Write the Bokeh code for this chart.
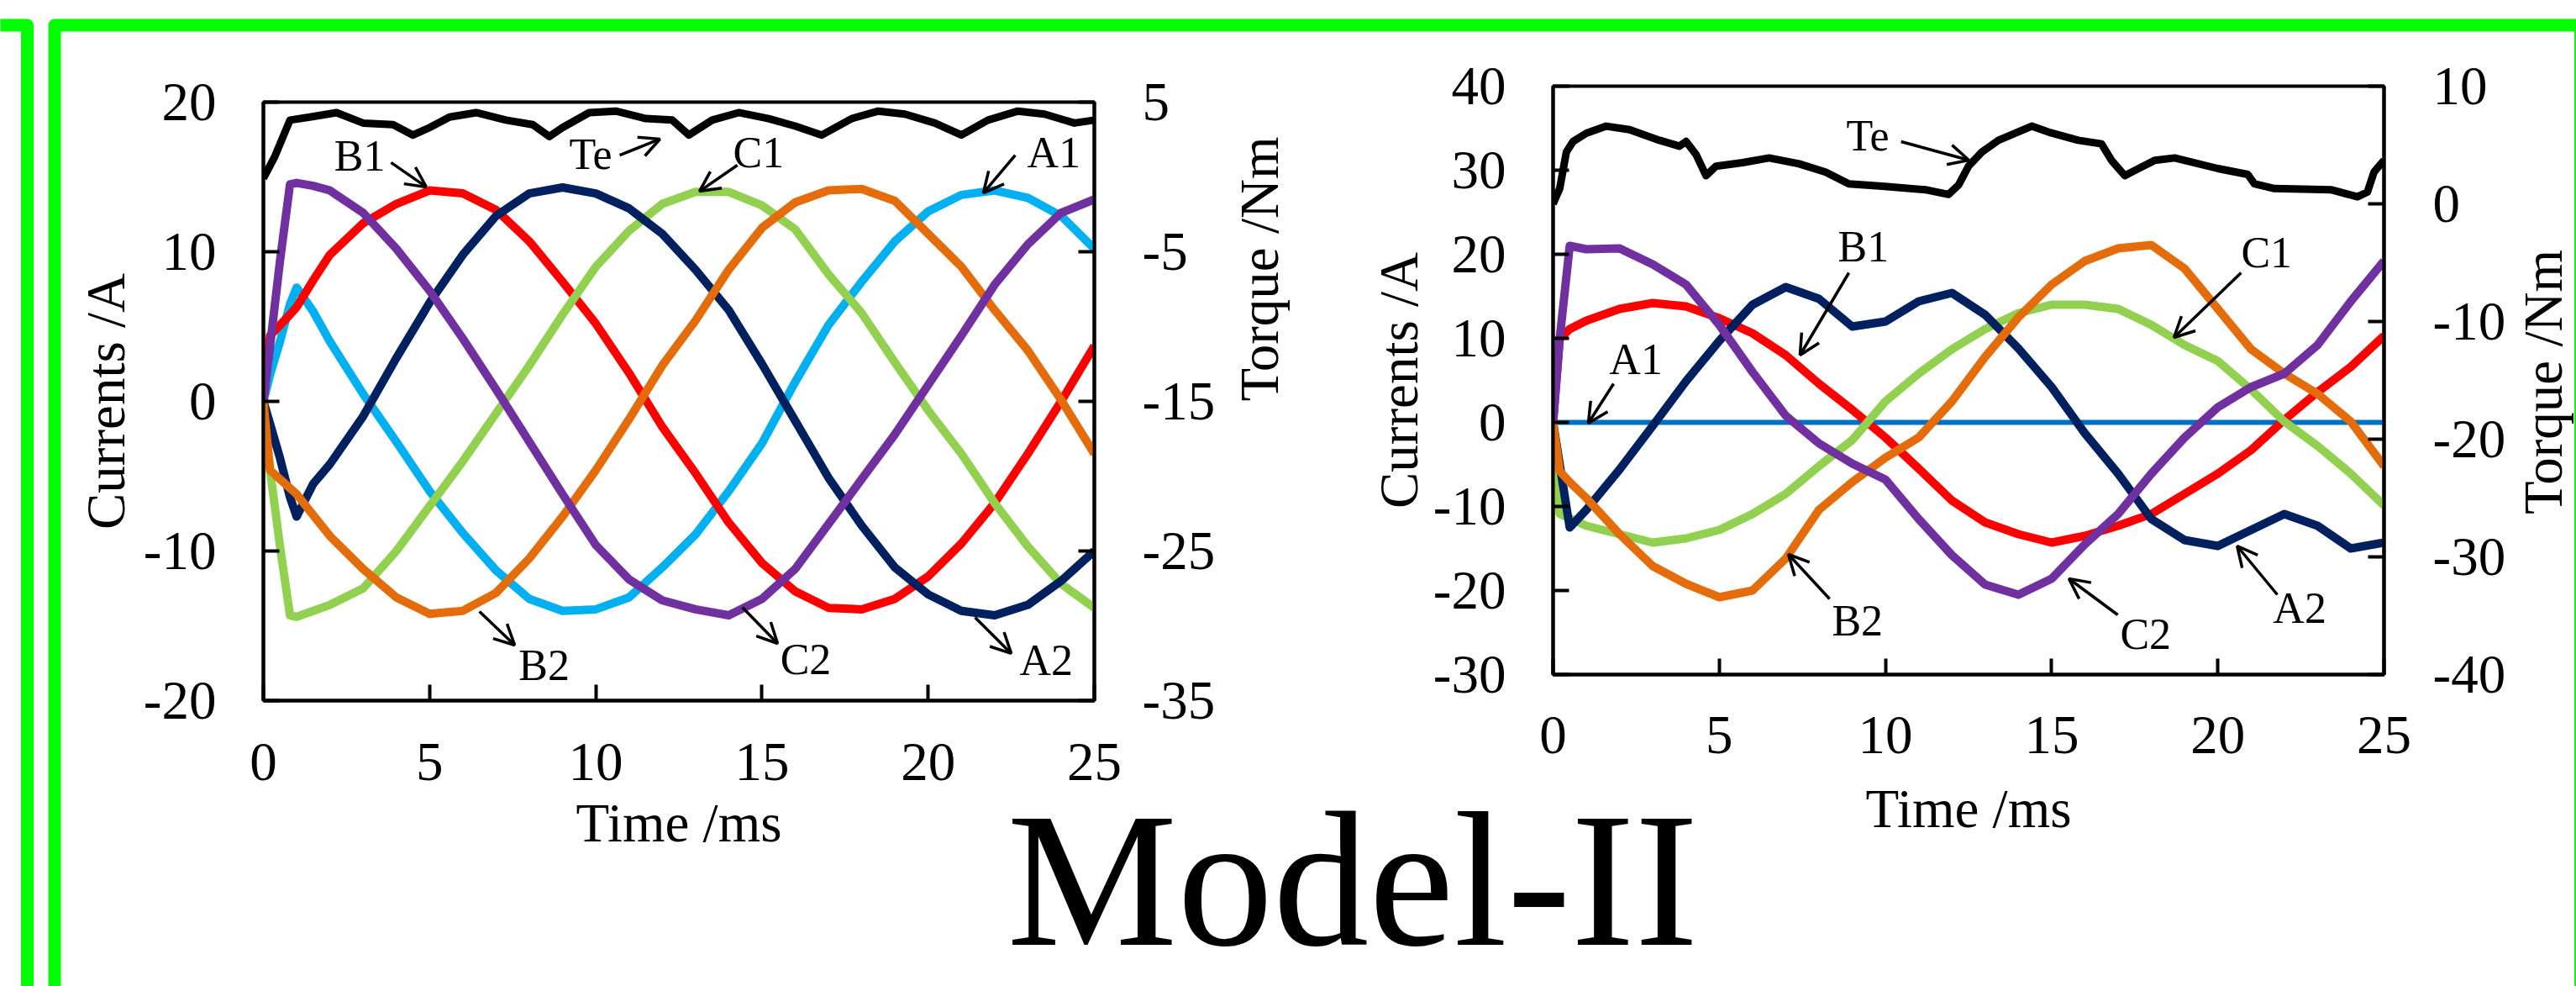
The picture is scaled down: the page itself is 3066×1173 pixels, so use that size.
import math
from bokeh.plotting import figure
from bokeh.models import Range1d, LinearAxis, FixedTicker, Arrow, OpenHead, Label, ColumnDataSource
from bokeh.layouts import column, row
from bokeh.core.properties import value
from bokeh.embed import file_html
from bokeh.resources import INLINE

FONT = "Liberation Serif"

# ---------------- data: left chart (healthy) ----------------
TIME_L = [0, 0.2, 0.5, 0.8, 1.0, 1.5, 2, 3, 4, 5, 6, 7, 8, 9, 10, 11, 12, 13,
          14, 15, 16, 17, 18, 19, 20, 21, 22, 23, 24, 25]
A1_L = [0, 1.8, 4.0, 6.5, 7.6, 6.0, 4.0, 0.5, -2.7, -6.0, -8.8, -11.3, -13.2, -14.0, -13.9,
        -13.1, -11.1, -8.9, -6.0, -2.8, 1.3, 5.1, 8.0, 10.7, 12.7, 13.8, 14.1, 13.6, 12.4, 10.2]
B1_L = [0, 4.4, 5.1, 5.8, 6.3, 8.1, 9.8, 11.9, 13.2, 14.1, 13.9, 12.8, 10.7, 8.0, 5.2,
        1.9, -1.7, -4.8, -8.1, -10.8, -12.7, -13.8, -13.9, -13.2, -11.7, -9.5, -6.8, -3.5, 0.0, 3.7]
C1_L = [0, -4.6, -9.7, -14.3, -14.4, -14.0, -13.6, -12.5, -10.0, -7.0, -4.0, -0.8, 2.4, 5.8, 9.0,
        11.4, 13.2, 14.0, 14.0, 13.1, 11.5, 8.5, 5.9, 2.6, -0.6, -3.5, -6.8, -9.7, -12.2, -13.8]
A2_L = [0, -1.5, -3.8, -6.4, -7.7, -5.5, -4.2, -1.0, 2.9, 6.6, 9.8, 12.4, 13.9, 14.3, 13.9,
        12.9, 11.2, 8.8, 6.1, 2.5, -1.3, -5.1, -8.3, -11.1, -12.9, -14.0, -14.3, -13.6, -12.0, -10.0]
B2_L = [0, -4.6, -5.2, -5.8, -6.2, -7.6, -9.0, -11.2, -13.1, -14.2, -14.0, -12.8, -10.5, -7.7, -4.6,
        -1.2, 2.4, 5.4, 8.8, 11.6, 13.3, 14.1, 14.2, 13.4, 11.2, 9.0, 6.1, 3.4, 0.1, -3.5]
C2_L = [0, 3.7, 9.4, 14.5, 14.6, 14.4, 14.1, 12.6, 10.2, 7.4, 4.2, 0.8, -2.7, -6.2, -9.6,
        -11.9, -13.3, -13.9, -14.3, -13.2, -11.2, -8.2, -5.2, -2.2, 1.1, 4.4, 7.8, 10.5, 12.6, 13.5]
TE_TIME_L = [0, 0.35, 0.8, 1.4, 2.2, 3.0, 3.9, 4.5, 5.0, 5.6, 6.4, 7.3, 8.1, 8.6, 9.0, 9.8, 10.6,
             11.5, 12.3, 12.8, 13.5, 14.3, 15.2, 16.0, 16.8, 17.7, 18.5, 19.3, 20.2, 21.0, 21.8,
             22.7, 23.5, 24.4, 25.0]
TE_L = [-0.1, 1.4, 3.8, 4.0, 4.3, 3.6, 3.5, 2.8, 3.3, 4.0, 4.3, 3.8, 3.5, 2.7, 3.3, 4.3, 4.4,
        3.9, 3.8, 2.8, 3.8, 4.3, 3.9, 3.4, 2.8, 3.9, 4.4, 4.2, 3.6, 2.8, 3.8, 4.4, 4.2, 3.6, 3.8]

# ---------------- data: right chart (A1 open) ----------------
TIME_R = [0, 0.2, 0.5, 1, 2, 3, 4, 5, 6, 7, 8, 9, 10, 11, 12, 13, 14, 15, 16, 17, 18,
          19, 20, 21, 22, 23, 24, 25]
A1_R = [0, 0, 0, 0, 0, 0, 0, 0, 0, 0, 0, 0, 0, 0, 0, 0, 0, 0, 0, 0, 0, 0, 0, 0, 0, 0, 0, 0]
B1_R = [0, 10.0, 11.1, 12.1, 13.5, 14.2, 13.8, 12.4, 10.6, 8.0, 4.6, 1.5, -1.8, -5.5, -9.3,
        -11.9, -13.3, -14.3, -13.5, -12.3, -10.9, -8.5, -6.1, -3.3, 0.3, 3.6, 6.6, 10.3]
C1_R = [0, -10.9, -11.4, -12.3, -13.3, -14.3, -13.8, -12.8, -10.9, -8.5, -5.2, -2.1, 2.5, 5.8, 8.7,
        11.1, 13.0, 14.0, 14.0, 13.5, 11.6, 9.2, 7.3, 3.9, 0.1, -2.8, -6.1, -9.9]
A2_R = [0, -5.0, -12.5, -10.4, -5.6, -0.4, 4.9, 9.7, 14.0, 16.1, 14.7, 11.4, 12.0, 14.4, 15.4,
        12.8, 8.8, 4.2, -1.3, -6.1, -11.5, -14.0, -14.7, -12.8, -10.9, -12.3, -15.0, -14.3]
B2_R = [0, -5.8, -7.1, -9.0, -13.3, -17.1, -19.2, -20.8, -20.0, -16.2, -10.4, -7.1, -4.2, -1.8, 2.5,
        7.8, 12.5, 16.4, 19.2, 20.7, 21.1, 18.3, 13.5, 8.7, 5.8, 3.4, 0.1, -5.2]
C2_R = [0, 10.0, 21.0, 20.6, 20.7, 18.8, 16.4, 11.6, 6.0, 0.8, -2.5, -4.9, -6.8, -11.5, -15.8,
        -19.3, -20.5, -18.6, -14.5, -10.9, -6.1, -1.8, 1.8, 4.2, 5.8, 9.2, 14.4, 19.2]
TE_TIME_R = [0, 0.2, 0.4, 0.6, 1.0, 1.6, 2.3, 3.2, 3.8, 4.0, 4.3, 4.6, 4.9, 5.7, 6.5, 7.4, 8.2,
             8.9, 9.9, 11.2, 11.9, 12.2, 12.5, 12.9, 13.4, 14.4, 14.9, 15.8, 16.5, 16.8, 17.2,
             18.1, 18.7, 20.0, 20.9, 21.1, 21.7, 23.4, 24.2, 24.5, 24.7, 25.0]
TE_R = [0.0, 1.3, 4.4, 5.3, 6.0, 6.6, 6.3, 5.4, 4.9, 5.3, 4.2, 2.4, 3.2, 3.5, 3.9, 3.4, 2.7,
        1.7, 1.5, 1.2, 0.8, 1.6, 3.2, 4.4, 5.4, 6.6, 6.1, 5.4, 5.1, 3.7, 2.4, 3.7, 3.9, 3.0,
        2.5, 1.7, 1.3, 1.2, 0.6, 1.0, 2.7, 3.7]

TIME_TICKS = [0, 5, 10, 15, 20, 25]
CUR_TICKS_L = [-20, -10, 0, 10, 20]
TQ_TICKS_L = [-35, -25, -15, -5, 5]
CUR_TICKS_R = [-30, -20, -10, 0, 10, 20, 30, 40]
TQ_TICKS_R = [-40, -30, -20, -10, 0, 10]

# annotations: label, text x / middle-line y, arrow start, arrow end
LBL_L = ["B1", "Te", "C1", "A1", "B2", "C2", "A2"]
LBL_L_X = [2.13, 9.20, 14.13, 22.98, 7.68, 15.55, 22.75]
LBL_L_Y = [16.43, 16.54, 16.65, 16.65, -17.62, -17.22, -17.32]
ARR_L_X0 = [3.84, 10.72, 14.26, 22.62, 6.50, 14.41, 21.41]
ARR_L_Y0 = [15.96, 16.46, 15.79, 16.46, -14.04, -13.76, -14.44]
ARR_L_X1 = [4.90, 11.93, 13.12, 21.66, 7.56, 15.47, 22.50]
ARR_L_Y1 = [14.33, 17.53, 14.04, 13.93, -16.29, -16.18, -16.85]

LBL_R = ["Te", "B1", "A1", "B2", "C1", "C2", "A2"]
LBL_R_X = [8.82, 8.57, 1.69, 8.39, 20.70, 17.06, 21.66]
LBL_R_Y = [34.15, 20.95, 7.55, -23.55, 20.25, -25.15, -22.05]
ARR_R_X0 = [10.47, 8.90, 1.82, 8.32, 20.70, 16.99, 21.79]
ARR_R_Y0 = [33.4, 17.8, 4.6, -21.0, 17.8, -22.9, -20.5]
ARR_R_X1 = [12.51, 7.43, 1.06, 7.08, 18.68, 15.52, 20.58]
ARR_R_Y1 = [31.2, 8.0, -0.1, -15.7, 10.1, -18.6, -14.7]

COLORS = {"A1": "#00B0F0", "B1": "#FF0000", "C1": "#92D050",
          "A2": "#002060", "B2": "#E46C0A", "C2": "#7030A0"}


def style_axis(ax, ticks, standoff, label_standoff):
    ax.ticker = FixedTicker(ticks=ticks)
    ax.major_label_overrides = {t: str(t) for t in ticks}
    ax.major_tick_in = 19
    ax.major_tick_out = 0
    ax.major_tick_line_width = 4
    ax.minor_tick_line_color = None
    ax.axis_line_width = 4
    ax.axis_line_color = "black"
    ax.major_label_text_font = FONT
    ax.major_label_text_font_size = "65px"
    ax.major_label_text_color = "black"
    ax.major_label_standoff = standoff
    ax.axis_label_text_font = FONT
    ax.axis_label_text_font_size = "65px"
    ax.axis_label_text_font_style = "normal"
    ax.axis_label_text_color = "black"
    ax.axis_label_standoff = label_standoff


def make_chart(width, height, borders, cur_rng, tq_rng, cur_ticks, tq_ticks,
               time, series, te_time, te, lbl, lx, ly, ax0, ay0, ax1, ay1,
               std, right_label, zero_line=None):
    p = figure(width=width, height=height, x_range=Range1d(0, 25),
               y_range=Range1d(*cur_rng), output_backend="svg", toolbar_location=None,
               min_border_left=borders[0], min_border_right=borders[1],
               min_border_top=borders[2], min_border_bottom=borders[3],
               background_fill_color=None, border_fill_color=None,
               outline_line_color="black", outline_line_width=4)
    p.xgrid.visible = False
    p.ygrid.visible = False
    p.extra_y_ranges = {"torque": Range1d(*tq_rng)}
    right = LinearAxis(y_range_name="torque", axis_label=right_label)
    p.add_layout(right, "right")
    p.xaxis.axis_label = "Time /ms"
    p.yaxis[0].axis_label = "Currents /A"
    style_axis(p.xaxis[0], TIME_TICKS, std["x"], std["xl"])
    style_axis(p.yaxis[0], cur_ticks, std["y"], std["yl"])
    style_axis(right, tq_ticks, std["r"], std["rl"])
    right.axis_label_orientation = math.pi / 2

    for name, vals in series:
        if name == "A1" and zero_line:
            p.line(time, vals, line_color=zero_line, line_width=6)
        else:
            p.line(time, vals, line_color=COLORS[name], line_width=10, line_join="round")
    p.line(te_time, te, line_color="black", line_width=9, line_join="round",
           y_range_name="torque")

    src = ColumnDataSource(dict(x=lx, y=ly, text=lbl))
    p.text(x="x", y="y", text="text", source=src, text_font=value(FONT),
           text_font_size=value("52px"), text_color="black",
           text_align="left", text_baseline="middle")
    for x0, y0, x1, y1 in zip(ax0, ay0, ax1, ay1):
        p.add_layout(Arrow(end=OpenHead(size=24, line_width=3.5, line_color="black"),
                           x_start=x0, y_start=y0, x_end=x1, y_end=y1,
                           line_width=3.5, line_color="black"))
    return p


TOP = 121      # shared top border (row aligns frames)
BOTTOM = 300   # shared bottom border
p1 = make_chart(1580, TOP + 712 + BOTTOM, (313, 278, TOP, BOTTOM), (-20, 20), (-35, 5),
                CUR_TICKS_L, TQ_TICKS_L, TIME_L,
                [("A1", A1_L), ("B1", B1_L), ("C1", C1_L), ("A2", A2_L), ("B2", B2_L), ("C2", C2_L)],
                TE_TIME_L, TE_L, LBL_L, LBL_L_X, LBL_L_Y, ARR_L_X0, ARR_L_Y0, ARR_L_X1, ARR_L_Y1,
                {"x": 51, "xl": 12, "y": 56, "yl": 6, "r": 57, "rl": 50}, "Torque /Nm")
p2 = make_chart(1486, TOP + 700 + BOTTOM, (268, 229, TOP, BOTTOM), (-30, 40), (-40, 10),
                CUR_TICKS_R, TQ_TICKS_R, TIME_R,
                [("A1", A1_R), ("B1", B1_R), ("C1", C1_R), ("A2", A2_R), ("B2", B2_R), ("C2", C2_R)],
                TE_TIME_R, TE_R, LBL_R, LBL_R_X, LBL_R_Y, ARR_R_X0, ARR_R_Y0, ARR_R_X1, ARR_R_Y1,
                {"x": 50, "xl": 27, "y": 56, "yl": 2, "r": 58, "rl": 8}, None, zero_line="#0070C0")
p2.margin = (-19, 0, 0, 0)   # right chart frame sits 19 px higher

# background page: green frames, big caption, right-chart torque title (page pixels)
bg = figure(width=3066, height=1173, x_range=Range1d(0, 3066), y_range=Range1d(1173, 0),
            x_axis_location=None, y_axis_location=None, toolbar_location=None,
            min_border=0, outline_line_color=None, output_backend="svg",
            background_fill_color="white", border_fill_color="white")
bg.grid.visible = False
bg.multi_line(xs=[[-20, 32, 32], [64.5, 64.5, 3071, 3071]],
              ys=[[29.5, 29.5, 1300], [1300, 29.5, 29.5, 1300]],
              line_color="#00FF00", line_width=15, line_join="round")
bg.add_layout(Label(x=1198, y=1046, text="Model-II", text_font=FONT,
                    text_font_size="228px", text_color="black",
                    text_align="left", text_baseline="middle"))
bg.add_layout(Label(x=3026, y=454, text="Torque /Nm", text_font=FONT, angle=math.pi / 2,
                    text_font_size="65px", text_color="black",
                    text_align="center", text_baseline="middle"))

charts = row(p1, p2)
charts.margin = (-1173, 0, 0, 0)
layout = column(bg, charts)

open("out.html", "w").write(file_html(layout, INLINE))
